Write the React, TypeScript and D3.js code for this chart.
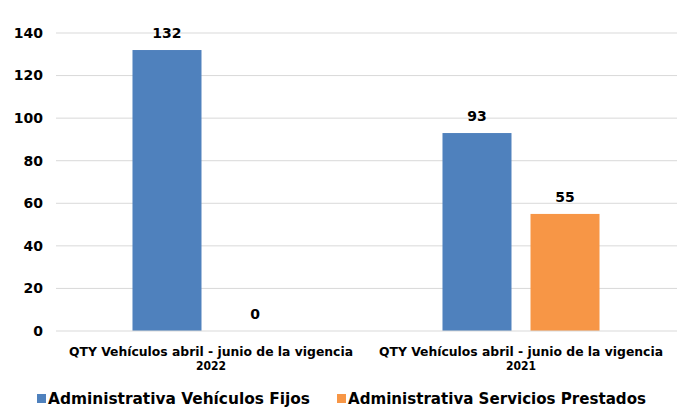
import * as d3 from "d3";

const categories = ["QTY Vehículos abril - junio de la vigencia 2022", "QTY Vehículos abril - junio de la vigencia 2021"];
const categoryLines = [
  ["QTY Vehículos abril - junio de la vigencia", "2022"],
  ["QTY Vehículos abril - junio de la vigencia", "2021"],
];
const seriesNames = ["Administrativa Vehículos Fijos", "Administrativa Servicios Prestados"];
const fijos = [132, 93];
const prestados = [0, 55];
const yTicks = [0, 20, 40, 60, 80, 100, 120, 140];
const colors = ["#4f81bd", "#f79646"];

const W = 681;
const H = 407;
const font = "'DejaVu Sans Condensed', 'DejaVu Sans', sans-serif";
const fontWide = "'DejaVu Sans', sans-serif";

export default function App() {
  const left = 56;
  const right = 676;
  const y = d3.scaleLinear().domain([0, 140]).range([331, 33]);
  const x0 = d3.scaleBand<string>().domain(categories).range([left, right]).paddingInner(0).paddingOuter(0);
  const x1 = d3
    .scaleBand<number>()
    .domain([0, 1])
    .range([0, x0.bandwidth()])
    .paddingInner(0.216)
    .paddingOuter(0.869);
  const series = [fijos, prestados];

  return (
    <svg width={W} height={H} style={{ position: "absolute", left: 0, top: 0, background: "#fff" }} fontFamily={font} fontWeight="bold">
      {yTicks.map((t) => (
        <g key={t}>
          {t > 0 && <line x1={left} x2={677} y1={y(t)} y2={y(t)} stroke="#d9d9d9" strokeWidth={1} />}
          <text x={43} y={y(t)} dy="0.35em" textAnchor="end" fontSize={14} fontFamily={fontWide} fill="#000">
            {t}
          </text>
        </g>
      ))}
      {categories.map((c, i) => (
        <g key={c} transform={`translate(${x0(c)},0)`}>
          {series.map((s, j) => {
            const bx = x1(j)!;
            const bw = x1.bandwidth();
            return (
              <g key={j}>
                {s[i] > 0 && (
                  <rect x={bx} y={y(s[i])} width={bw} height={y(0) - y(s[i])} fill={colors[j]} />
                )}
                <text x={bx + bw / 2} y={y(s[i]) - 17} dy="0.35em" textAnchor="middle" fontSize={14} fontFamily={fontWide} fill="#000">
                  {s[i]}
                </text>
              </g>
            );
          })}
          {categoryLines[i].map((ln, k) => (
            <text
              key={k}
              x={x0.bandwidth() / 2}
              y={351.5 + k * 14}
              dy="0.35em"
              textAnchor="middle"
              fontSize={12}
              fill="#000"
              textLength={k === 0 ? 284 : undefined}
              lengthAdjust="spacingAndGlyphs"
            >
              {ln}
            </text>
          ))}
        </g>
      ))}
      <line x1={left} x2={677} y1={y(0)} y2={y(0)} stroke="#d9d9d9" strokeWidth={1} />
      {seriesNames.map((n, j) => {
        const lx = j === 0 ? 37 : 337;
        const tl = j === 0 ? 262 : 298;
        return (
          <g key={n}>
            <rect x={lx} y={394} width={9} height={9} fill={colors[j]} />
            <text x={lx + 11} y={398.5} dy="0.35em" fontSize={16} fill="#000" textLength={tl} lengthAdjust="spacingAndGlyphs">
              {n}
            </text>
          </g>
        );
      })}
    </svg>
  );
}
